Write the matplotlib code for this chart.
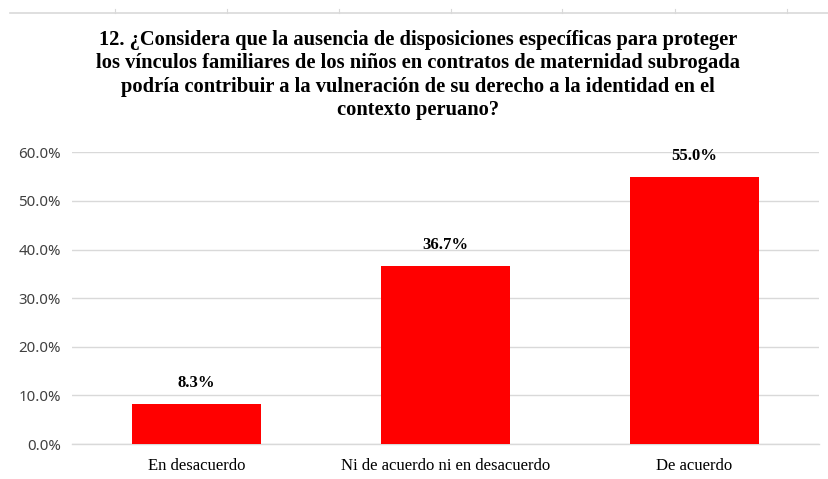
import matplotlib
matplotlib.use("Agg")
import matplotlib.pyplot as plt
from matplotlib.lines import Line2D
from matplotlib.ticker import PercentFormatter

# data
categories = ["En desacuerdo", "Ni de acuerdo ni en desacuerdo", "De acuerdo"]
values = [8.3, 36.7, 55.0]
yticks = [0, 10, 20, 30, 40, 50, 60]
title = ("12. ¿Considera que la ausencia de disposiciones específicas para proteger\n"
         "los vínculos familiares de los niños en contratos de maternidad subrogada\n"
         "podría contribuir a la vulneración de su derecho a la identidad en el\n"
         "contexto peruano?")

W, H = 829, 479
fig = plt.figure(figsize=(W / 100, H / 100), dpi=100)
fig.patch.set_facecolor("white")

# plot area in pixels: x 72..819, y 152..444
ax = fig.add_axes([72 / W, (H - 444) / H, (819 - 72) / W, (444 - 152.3) / H])

x = list(range(len(categories)))
ax.bar(x, values, width=0.518, color="#ff0000", zorder=3)
ax.set_xlim(-0.5, len(categories) - 0.5)
ax.set_ylim(0, 60)
ax.set_yticks(yticks)
ax.yaxis.set_major_formatter(PercentFormatter(decimals=1))
ax.grid(axis="y", color="#d9d9d9", linewidth=1.0, zorder=0)
for s in ["top", "right", "left"]:
    ax.spines[s].set_visible(False)
ax.spines["bottom"].set_color("#d9d9d9")
ax.spines["bottom"].set_linewidth(1.0)
ax.tick_params(axis="both", length=0)
ax.tick_params(axis="y", pad=8, labelsize=10.8, labelcolor="#404040")
ax.tick_params(axis="x", pad=10)
for lab in ax.get_yticklabels():
    lab.set_family("Noto Sans")
ax.set_xticks(x)
ax.set_xticklabels(categories, family="Liberation Serif", fontsize=12, color="#000000")

for xi, v in zip(x, values):
    ax.annotate(f"{v:.1f}%", (xi, v), xytext=(0, 9), textcoords="offset points",
                ha="center", va="bottom", family="Liberation Serif",
                fontweight="bold", fontsize=12, color="#000000")

fig.text(418 / W, 1 - 30 / H, title, ha="center", va="top", family="Liberation Serif",
         fontweight="bold", fontsize=14.8, linespacing=1.22)

# spreadsheet border line at the top of the picture
fig.add_artist(Line2D([10 / W, 1], [1 - 13 / H, 1 - 13 / H], color="#d9d9d9", linewidth=1.2))
for px in [115, 227, 339, 451, 562, 675, 787]:
    fig.add_artist(Line2D([px / W, px / W], [1 - 9 / H, 1 - 13 / H], color="#d9d9d9", linewidth=0.8))

fig.savefig("out.png", dpi=100)
